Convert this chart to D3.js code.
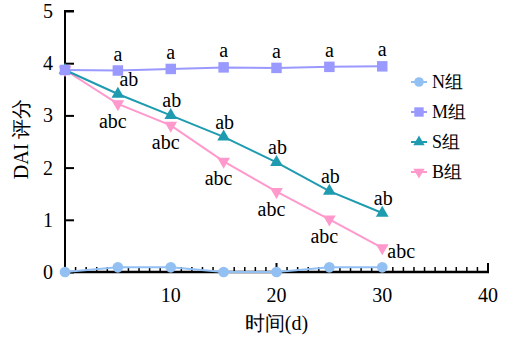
<!DOCTYPE html>
<html lang="en">
<head>
<meta charset="utf-8">
<script src="https://cdn.jsdelivr.net/npm/d3@7"></script>
</head>
<body style="margin:0">
<div id="chart"></div>
<script>
(function chart() {

    // Data
    const days = [0, 5, 10, 15, 20, 25, 30];
    const groupNames = ["N组", "M组", "S组", "B组"];
    const nValues = [0, 0.09, 0.09, 0, 0, 0.09, 0.09];
    const mValues = [3.87, 3.86, 3.89, 3.92, 3.91, 3.93, 3.94];
    const sValues = [3.87, 3.41, 3.0, 2.59, 2.1, 1.55, 1.13];
    const bValues = [3.87, 3.22, 2.81, 2.12, 1.54, 1.01, 0.46];
    const mLabels = ["", "a", "a", "a", "a", "a", "a"];
    const sLabels = ["", "ab", "ab", "ab", "ab", "ab", "ab"];
    const bLabels = ["", "abc", "abc", "abc", "abc", "abc", "abc"];
    const xTicks = [10, 20, 30, 40];
    const yTicks = [0, 1, 2, 3, 4, 5];

    const WIDTH = 506;
    const HEIGHT = 339;
    const SERIF = "'Liberation Serif'";

    const svg = d3.select("#chart").append("svg")
        .attr("width", WIDTH)
        .attr("height", HEIGHT);

    const x = d3.scaleLinear().domain([0, 40]).range([65, 488]);
    const y = d3.scaleLinear().domain([0, 5]).range([272, 11]);

    // every label goes through this so the font is set on the element itself
    function label(parent, tx, ty, str, size, anchor) {
        return parent.append("text")
            .attr("x", tx).attr("y", ty)
            .attr("text-anchor", anchor || "middle")
            .style("font-family", SERIF)
            .style("font-size", size + "px")
            .text(str);
    }

    // y axis (ticks inside)
    const yAxis = svg.append("g")
        .attr("transform", "translate(65,0)")
        .call(d3.axisRight(y).tickValues(yTicks).tickSize(9).tickFormat(""));
    yAxis.select(".domain").attr("stroke-width", 2).attr("d", "M9," + y(5) + "H0V" + (y(0) + 1));
    yAxis.selectAll(".tick line").attr("stroke-width", 2);
    yTicks.forEach(t => label(svg, 53, y(t) + 7, String(t), 20, "end"));

    // x axis with minor ticks
    const xMinor = d3.range(1, 40).filter(d => d % 10 !== 0);
    const xAxis = svg.append("g")
        .attr("transform", "translate(0,272)");
    xAxis.append("line")
        .attr("x1", x(0)).attr("x2", x(40) + 1)
        .attr("stroke", "#000").attr("stroke-width", 2.5);
    xAxis.selectAll(".minor").data(xMinor).join("line")
        .attr("x1", d => x(d)).attr("x2", d => x(d))
        .attr("y1", 0).attr("y2", -5)
        .attr("stroke", "#000").attr("stroke-width", 1.5);
    xAxis.selectAll(".major").data(xTicks).join("line")
        .attr("x1", d => x(d)).attr("x2", d => x(d))
        .attr("y1", 0).attr("y2", -9)
        .attr("stroke", "#000").attr("stroke-width", 2);
    xTicks.forEach(t => label(svg, x(t), 302, String(t), 20));

    // axis titles
    label(svg, x(20), 330, "时间(d)", 20);
    label(svg, 0, 0, "DAI 评分", 20)
        .attr("transform", "translate(28," + y(2.55) + ") rotate(-90)");

    const series = [
        { name: groupNames[0], values: nValues, color: "#92c0f3", shape: d3.symbolCircle, size: 90 },
        { name: groupNames[1], values: mValues, color: "#9999ff", shape: d3.symbolSquare, size: 110 },
        { name: groupNames[2], values: sValues, color: "#1f9bb0", shape: d3.symbolTriangle, size: 70 },
        { name: groupNames[3], values: bValues, color: "#ff99cc", shape: d3.symbolTriangle, size: 70, flip: true }
    ];

    const line = d3.line().x(d => x(d[0])).y(d => y(d[1]));

    // draw back to front: B, S, M, N
    series.slice().reverse().forEach(s => {
        const pts = days.map((d, i) => [d, s.values[i]]);
        svg.append("path")
            .attr("d", line(pts))
            .attr("fill", "none")
            .attr("stroke", s.color)
            .attr("stroke-width", 2);
        svg.selectAll(null).data(pts).join("path")
            .attr("transform", d => "translate(" + x(d[0]) + "," + y(d[1]) + ")" + (s.flip ? " rotate(180)" : ""))
            .attr("d", d3.symbol().type(s.shape).size(s.size))
            .attr("fill", s.color);
    });

    // significance letters
    days.forEach((d, i) => {
        if (!mLabels[i]) return;
        label(svg, x(d), y(mValues[i]) - 10, mLabels[i], 20);
        label(svg, x(d) + (i === 1 ? 11 : 1), y(sValues[i]) - 8, sLabels[i], 20);
        label(svg, x(d) + (i === 6 ? 19 : -5), y(bValues[i]) + (i === 6 ? 10 : 24), bLabels[i], 20);
    });

    // legend
    const legend = svg.append("g").attr("transform", "translate(419,82)");
    series.forEach((s, i) => {
        const g = legend.append("g").attr("transform", "translate(0," + i * 30 + ")");
        g.append("line")
            .attr("x1", -8).attr("x2", 8)
            .attr("stroke", s.color).attr("stroke-width", 2);
        g.append("path")
            .attr("transform", s.flip ? "rotate(180)" : null)
            .attr("d", d3.symbol().type(s.shape).size(s.size * 0.8))
            .attr("fill", s.color);
        label(g, 13, 6, s.name, 18, "start");
    });

})();
</script>
</body>
</html>
